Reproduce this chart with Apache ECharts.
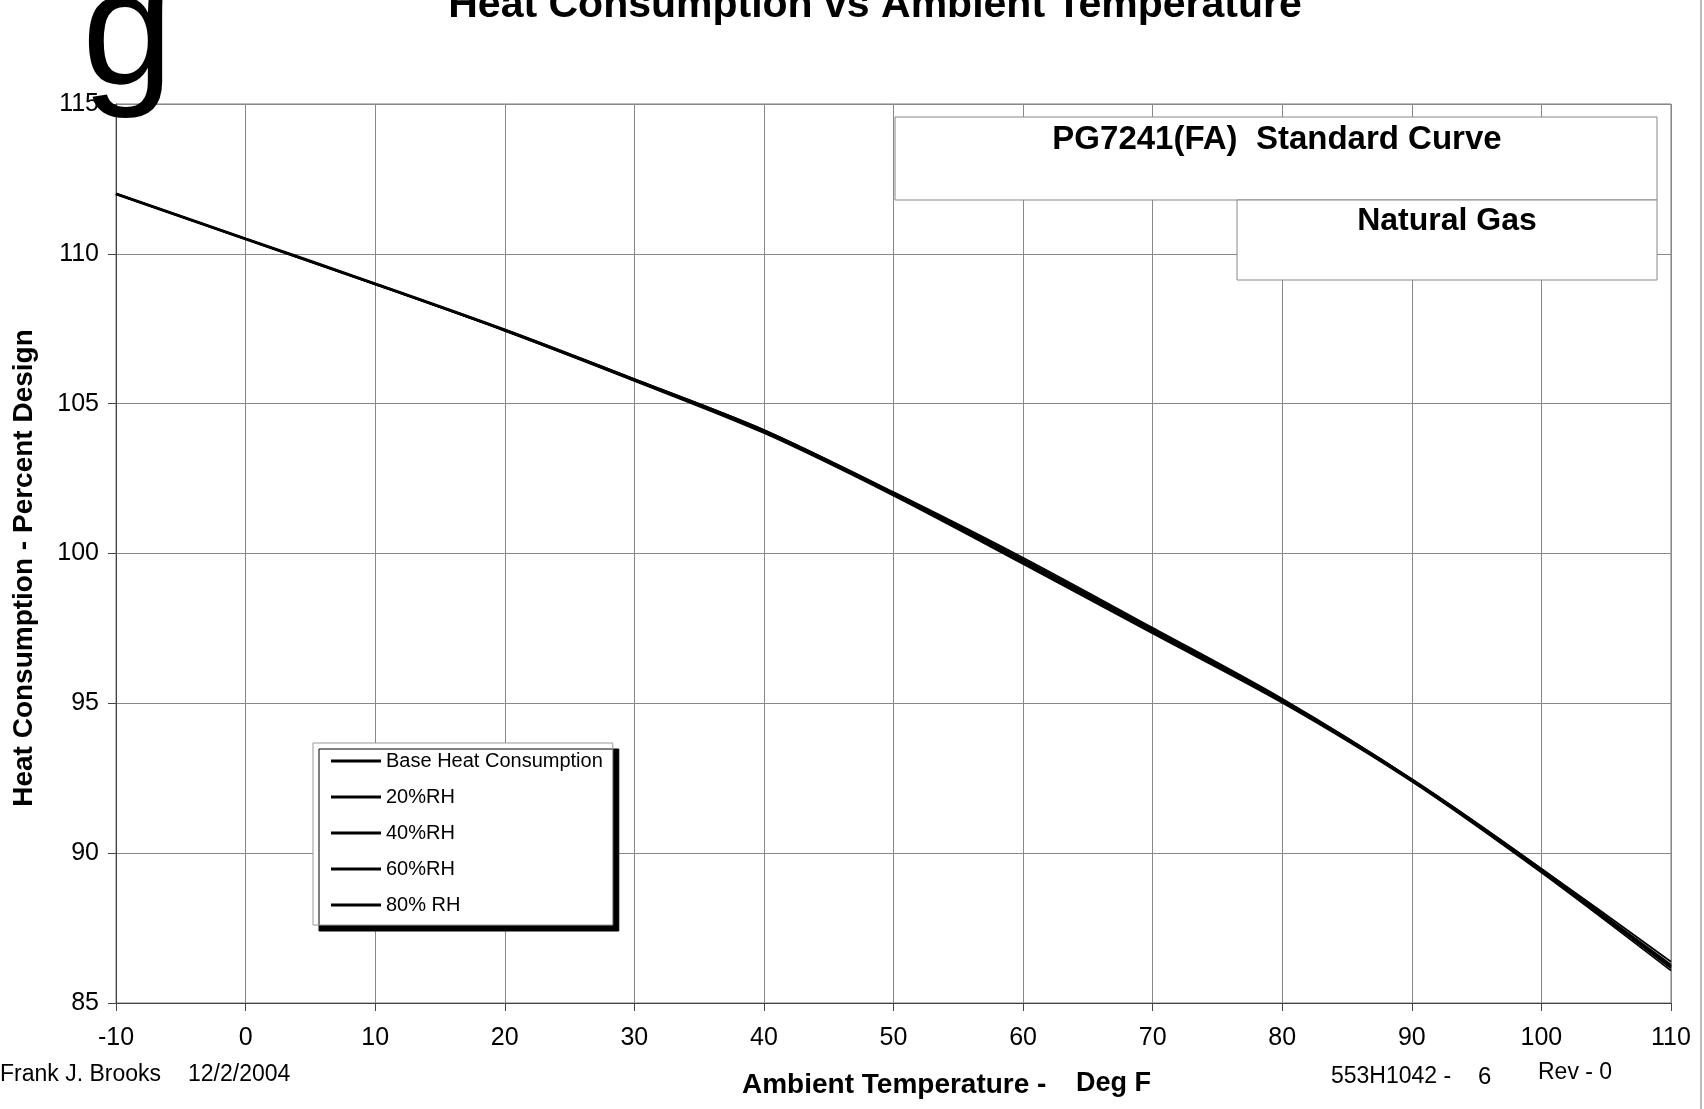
<!DOCTYPE html>
<html>
<head>
<meta charset="utf-8">
<title>Heat Consumption vs Ambient Temperature</title>
<script src="https://cdn.jsdelivr.net/npm/echarts@6/dist/echarts.min.js"></script>
<style>
  html, body { margin: 0; padding: 0; background: #fff; }
  #chart { width: 1704px; height: 1109px; }
</style>
</head>
<body>
<div id="chart"></div>
<script>
const FONT = "'Liberation Sans', Arial, sans-serif";

// ambient temperature, deg F
const temps = [ -10, 0, 10, 20, 30, 40, 50, 60, 70, 80, 90, 100, 110 ];

// heat consumption, percent design
const baseHeat = [ 112.0, 110.5, 109.0, 107.46, 105.8, 104.1, 102.0, 99.78, 97.45, 95.1, 92.45, 89.45, 86.2 ];
const rh20 = [ 112.0, 110.5, 109.0, 107.46, 105.82, 104.12, 102.05, 99.86, 97.52, 95.15, 92.47, 89.48, 86.38 ];
const rh40 = [ 112.0, 110.5, 109.0, 107.45, 105.8, 104.08, 101.99, 99.74, 97.42, 95.08, 92.43, 89.42, 86.28 ];
const rh60 = [ 112.0, 110.5, 108.99, 107.44, 105.78, 104.05, 101.96, 99.69, 97.37, 95.05, 92.41, 89.39, 86.16 ];
const rh80 = [ 112.0, 110.49, 108.98, 107.43, 105.76, 104.02, 101.93, 99.65, 97.33, 95.02, 92.39, 89.35, 86.08 ];

const seriesNames = [ 'Base Heat Consumption', '20%RH', '40%RH', '60%RH', '80% RH' ];
const seriesValues = [ baseHeat, rh20, rh40, rh60, rh80 ];
const seriesWidths = [ 3, 1.8, 1.8, 1.8, 1.8 ];

const chart = echarts.init( document.getElementById( 'chart' ) );

const text = ( str, x, y, size, opts ) => Object.assign( {
	type: 'text',
	x: x,
	y: y,
	z: 110,
	style: Object.assign( {
		text: str,
		fontSize: size,
		fontFamily: FONT,
		fill: '#000',
		align: 'center',
		verticalAlign: 'middle'
	}, ( opts && opts.style ) || {} )
}, opts ? { rotation: opts.rotation || 0 } : {} );

chart.setOption( {
	animation: false,
	backgroundColor: '#fff',
	grid: {
		left: 116,
		right: 33,
		top: 104,
		bottom: 106,
		show: true,
		borderColor: '#777',
		borderWidth: 1
	},
	xAxis: {
		type: 'value',
		min: -10,
		max: 110,
		interval: 10,
		axisLine: { onZero: false, lineStyle: { color: '#444', width: 1 } },
		axisTick: { length: 8, lineStyle: { color: '#444' } },
		axisLabel: { fontSize: 25, color: '#000', fontFamily: FONT, margin: 23 },
		splitLine: { lineStyle: { color: '#888', width: 1 } }
	},
	yAxis: {
		type: 'value',
		min: 85,
		max: 115,
		interval: 5,
		axisLine: { show: true, onZero: false, lineStyle: { color: '#444', width: 1 } },
		axisTick: { show: true, length: 8, lineStyle: { color: '#444' } },
		axisLabel: { fontSize: 25, color: '#000', fontFamily: FONT, margin: 17 },
		splitLine: { lineStyle: { color: '#888', width: 1 } }
	},
	legend: {
		orient: 'vertical',
		left: 313,
		top: 743,
		icon: 'rect',
		itemWidth: 50,
		itemHeight: 3,
		itemGap: 16,
		padding: [ 8, 10, 10, 18 ],
		backgroundColor: '#fff',
		borderColor: '#999',
		borderWidth: 1,
		shadowColor: '#000',
		shadowBlur: 0,
		shadowOffsetX: 6,
		shadowOffsetY: 6,
		itemStyle: { color: '#000' },
		textStyle: { fontSize: 20, lineHeight: 20, color: '#000', fontFamily: FONT },
		data: seriesNames
	},
	series: seriesNames.map( ( name, i ) => ( {
		name: name,
		type: 'line',
		data: temps.map( ( t, j ) => [ t, seriesValues[ i ][ j ] ] ),
		symbol: 'none',
		smooth: 0.3,
		lineStyle: { color: '#000', width: seriesWidths[ i ] },
		itemStyle: { color: '#000' }
	} ) ),
	graphic: [
		// page edge
		{ type: 'line', z: 100, shape: { x1: 1701, y1: 0, x2: 1701, y2: 1109 }, style: { stroke: '#bbb', lineWidth: 2 } },
		// annotation boxes
		{ type: 'rect', z: 100, shape: { x: 895, y: 117, width: 762, height: 83 }, style: { fill: '#fff', stroke: '#888', lineWidth: 1 } },
		{ type: 'rect', z: 100, shape: { x: 1237, y: 200, width: 420, height: 80 }, style: { fill: '#fff', stroke: '#888', lineWidth: 1 } },
		text( 'PG7241(FA)  Standard Curve', 1277, 140, 33, { style: { fontWeight: 'bold' } } ),
		text( 'Natural Gas', 1447, 221, 32, { style: { fontWeight: 'bold' } } ),
		// title, cut off at the top of the sheet
		text( 'Heat Consumption vs Ambient Temperature', 875, 6, 41, { style: { fontWeight: 'bold' } } ),
		// stray letter on the scan
		text( 'g', 82, 39, 164, { style: { align: 'left' } } ),
		// axis names
		text( 'Heat Consumption - Percent Design', 24, 568, 28, { rotation: Math.PI / 2, style: { fontWeight: 'bold' } } ),
		text( 'Ambient Temperature -', 742, 1085, 28, { style: { fontWeight: 'bold', align: 'left' } } ),
		text( 'Deg F', 1076, 1084, 27, { style: { fontWeight: 'bold', align: 'left' } } ),
		// footer
		text( 'Frank J. Brooks', 0, 1075, 23, { style: { align: 'left' } } ),
		text( '12/2/2004', 188, 1075, 23, { style: { align: 'left' } } ),
		text( '553H1042 -', 1331, 1077, 23, { style: { align: 'left' } } ),
		text( '6', 1478, 1077, 24, { style: { align: 'left' } } ),
		text( 'Rev - 0', 1538, 1073, 23, { style: { align: 'left' } } )
	]
} );
</script>
</body>
</html>
